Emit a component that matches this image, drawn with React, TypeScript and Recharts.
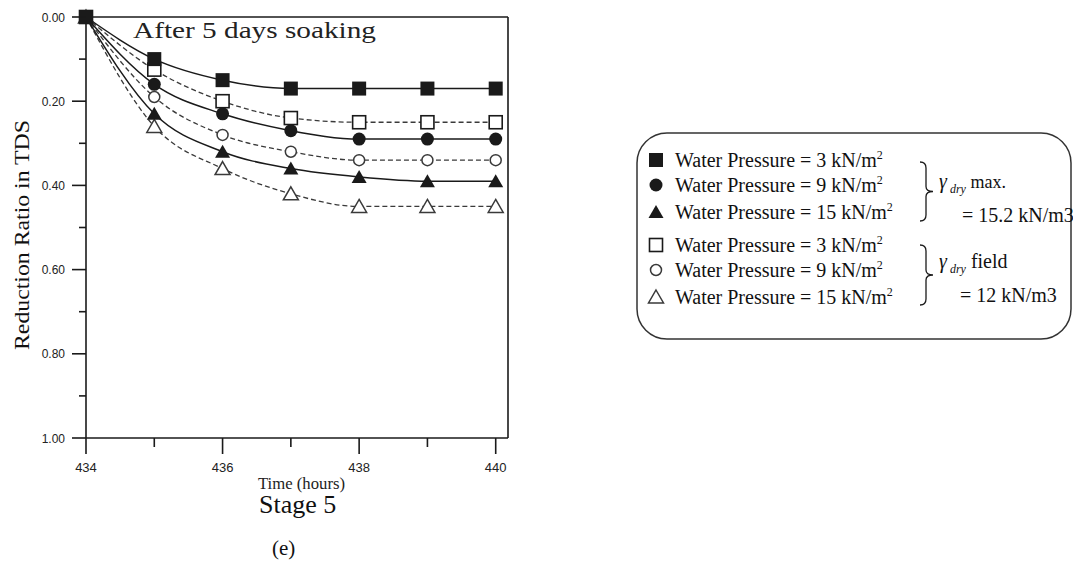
import React from "react";
import { LineChart, Line, XAxis, YAxis } from "recharts";

const hours = [434, 435, 436, 437, 438, 439, 440];
const xTicks = [434, 435, 436, 437, 438, 439, 440];
const yTicks = [0, 0.1, 0.2, 0.3, 0.4, 0.5, 0.6, 0.7, 0.8, 0.9, 1.0];

// gamma_dry max. = 15.2 kN/m3 (filled markers, solid lines)
const maxP3 = [0, 0.10, 0.15, 0.17, 0.17, 0.17, 0.17];
const maxP9 = [0, 0.16, 0.23, 0.27, 0.29, 0.29, 0.29];
const maxP15 = [0, 0.23, 0.32, 0.36, 0.38, 0.39, 0.39];
// gamma_dry field = 12 kN/m3 (open markers, dashed lines)
const fieldP3 = [0, 0.125, 0.20, 0.24, 0.25, 0.25, 0.25];
const fieldP9 = [0, 0.19, 0.28, 0.32, 0.34, 0.34, 0.34];
const fieldP15 = [0, 0.26, 0.36, 0.42, 0.45, 0.45, 0.45];

const legendLabels = [
  "Water Pressure = 3 kN/m",
  "Water Pressure = 9 kN/m",
  "Water Pressure = 15 kN/m",
  "Water Pressure = 3 kN/m",
  "Water Pressure = 9 kN/m",
  "Water Pressure = 15 kN/m",
];

const data = hours.map((t, i) => ({
  t,
  m3: maxP3[i],
  m9: maxP9[i],
  m15: maxP15[i],
  f3: fieldP3[i],
  f9: fieldP9[i],
  f15: fieldP15[i],
}));

const INK = "#1a1a1a";
const OPEN = "#3a3a3a";
const SERIF = "'Liberation Serif', 'Times New Roman', serif";
const SANS = "'Liberation Sans', Arial, sans-serif";

type Kind = "fsq" | "fci" | "ftr" | "osq" | "oci" | "otr";

function Marker({ cx, cy, kind }: { cx: number; cy: number; kind: Kind }) {
  if (cx == null || cy == null) return null;
  switch (kind) {
    case "fsq":
      return <rect x={cx - 7} y={cy - 7} width={14} height={14} fill={INK} />;
    case "fci":
      return <circle cx={cx} cy={cy} r={6.5} fill={INK} />;
    case "ftr":
      return <polygon points={`${cx},${cy - 7} ${cx + 7.5},${cy + 6} ${cx - 7.5},${cy + 6}`} fill={INK} />;
    case "osq":
      return <rect x={cx - 6.5} y={cy - 6.5} width={13} height={13} fill="#fff" stroke={INK} strokeWidth={1.6} />;
    case "oci":
      return <circle cx={cx} cy={cy} r={5.5} fill="#fff" stroke={OPEN} strokeWidth={1.5} />;
    case "otr":
      return <polygon points={`${cx},${cy - 7} ${cx + 7.5},${cy + 6} ${cx - 7.5},${cy + 6}`} fill="#fff" stroke={OPEN} strokeWidth={1.5} />;
  }
  return null;
}

const dotFor = (kind: Kind) => (p: any) => <Marker key={`${kind}-${p.index}`} cx={p.cx} cy={p.cy} kind={kind} />;

const XTick = (props: any) => {
  const { x, y, payload } = props;
  const v = payload.value;
  const major = v % 2 === 0;
  return (
    <g>
      <line x1={x} x2={x} y1={y} y2={y + (major ? 16 : 9)} stroke={INK} strokeWidth={1.6} />
      {major && (
        <text x={x} y={y + 34} textAnchor="middle" fontFamily={SANS} fontSize={13} fill="#222">
          {v}
        </text>
      )}
    </g>
  );
};

const YTick = (props: any) => {
  const { x, y, payload } = props;
  const v = payload.value;
  const major = Math.round(v * 10) % 2 === 0;
  return (
    <g>
      <line x1={x} x2={x - (major ? 14 : 7)} y1={y} y2={y} stroke={INK} strokeWidth={1.6} />
      {major && (
        <text x={x - 21} y={y + 4.5} textAnchor="end" fontFamily={SANS} fontSize={12} fill="#222">
          {v.toFixed(2)}
        </text>
      )}
    </g>
  );
};

function Brace({ x, y1, y2 }: { x: number; y1: number; y2: number }) {
  const m = (y1 + y2) / 2;
  const d = `M${x},${y1} Q${x + 6},${y1} ${x + 6},${y1 + 6} L${x + 6},${m - 5} Q${x + 6},${m} ${x + 13},${m} Q${x + 6},${m} ${x + 6},${m + 5} L${x + 6},${y2 - 6} Q${x + 6},${y2} ${x},${y2}`;
  return <path d={d} fill="none" stroke={INK} strokeWidth={1.3} />;
}

const legendKinds: Kind[] = ["fsq", "fci", "ftr", "osq", "oci", "otr"];
const legendRowY = [160, 185, 212, 245, 270, 297];

export default function App() {
  return (
    <div style={{ position: "absolute", left: 0, top: 0, width: 1073, height: 568, background: "#fff" }}>
      <LineChart
        width={1073}
        height={568}
        data={data}
        margin={{ top: 16, right: 564, bottom: 129, left: 85 }}
      >
        <XAxis
          dataKey="t"
          type="number"
          domain={[434, 440.18]}
          ticks={xTicks}
          interval={0}
          tick={<XTick />}
          tickLine={false}
          tickSize={0}
          tickMargin={0}
          height={1}
          axisLine={{ stroke: INK, strokeWidth: 1.6 }}
        />
        <XAxis
          xAxisId="top"
          orientation="top"
          type="number"
          domain={[434, 440.18]}
          tick={false}
          tickLine={false}
          height={1}
          axisLine={{ stroke: INK, strokeWidth: 1.6 }}
        />
        <YAxis
          type="number"
          domain={[0, 1]}
          reversed
          ticks={yTicks}
          interval={0}
          tick={<YTick />}
          tickLine={false}
          tickSize={0}
          tickMargin={0}
          width={1}
          axisLine={{ stroke: INK, strokeWidth: 1.6 }}
        />
        <YAxis
          yAxisId="right"
          orientation="right"
          type="number"
          domain={[0, 1]}
          tick={false}
          tickLine={false}
          width={1}
          axisLine={{ stroke: INK, strokeWidth: 1.6 }}
        />
        <Line dataKey="f15" type="monotone" stroke={OPEN} strokeWidth={1.3} strokeDasharray="5 3" dot={dotFor("otr")} isAnimationActive={false} />
        <Line dataKey="f9" type="monotone" stroke={OPEN} strokeWidth={1.3} strokeDasharray="5 3" dot={dotFor("oci")} isAnimationActive={false} />
        <Line dataKey="f3" type="monotone" stroke={OPEN} strokeWidth={1.3} strokeDasharray="5 3" dot={dotFor("osq")} isAnimationActive={false} />
        <Line dataKey="m15" type="monotone" stroke={INK} strokeWidth={1.5} dot={dotFor("ftr")} isAnimationActive={false} />
        <Line dataKey="m9" type="monotone" stroke={INK} strokeWidth={1.5} dot={dotFor("fci")} isAnimationActive={false} />
        <Line dataKey="m3" type="monotone" stroke={INK} strokeWidth={1.5} dot={dotFor("fsq")} isAnimationActive={false} />
      </LineChart>

      <svg
        width={1073}
        height={568}
        style={{ position: "absolute", left: 0, top: 0, pointerEvents: "none" }}
      >
        <text x={133} y={38} fontFamily={SERIF} fontSize={23} fill="#222" textLength={243} lengthAdjust="spacingAndGlyphs">
          After 5 days soaking
        </text>
        <text
          x={29}
          y={235}
          transform="rotate(-90 29 235)"
          textAnchor="middle"
          fontFamily={SERIF}
          fontSize={21}
          fill="#111"
          textLength={230}
          lengthAdjust="spacingAndGlyphs"
        >
          Reduction Ratio in TDS
        </text>
        <text x={258} y={489} fontFamily={SERIF} fontSize={16} fill="#222" textLength={87} lengthAdjust="spacingAndGlyphs">
          Time (hours)
        </text>
        <text x={259} y={513} fontFamily={SERIF} fontSize={26} fill="#111">
          Stage 5
        </text>
        <text x={272} y={555} fontFamily={SERIF} fontSize={21} fill="#111">
          (e)
        </text>

        <rect x={637} y={133} width={434} height={206} rx={30} ry={30} fill="none" stroke="#333" strokeWidth={1.5} />
        {legendKinds.map((k, i) => (
          <g key={k}>
            <Marker cx={656} cy={legendRowY[i]} kind={k} />
            <text x={675} y={legendRowY[i] + 7} fontFamily={SERIF} fontSize={20} fill="#111">
              {legendLabels[i]}
              <tspan dy={-8} fontSize={12}>2</tspan>
            </text>
          </g>
        ))}
        <Brace x={920} y1={162} y2={221} />
        <Brace x={920} y1={245} y2={305} />
        <text x={939} y={188} fontFamily={SERIF} fill="#111">
          <tspan fontSize={20} fontStyle="italic">γ</tspan>
          <tspan fontSize={12} fontStyle="italic" dy={5}> dry</tspan>
          <tspan fontSize={18} dy={-5}> max.</tspan>
        </text>
        <text x={962} y={222} fontFamily={SERIF} fontSize={20} fill="#111">
          = 15.2 kN/m3
        </text>
        <text x={939} y={268} fontFamily={SERIF} fill="#111">
          <tspan fontSize={20} fontStyle="italic">γ</tspan>
          <tspan fontSize={12} fontStyle="italic" dy={5}> dry</tspan>
          <tspan fontSize={20} dy={-5}> field</tspan>
        </text>
        <text x={960} y={302} fontFamily={SERIF} fontSize={20} fill="#111">
          = 12 kN/m3
        </text>
      </svg>
    </div>
  );
}
